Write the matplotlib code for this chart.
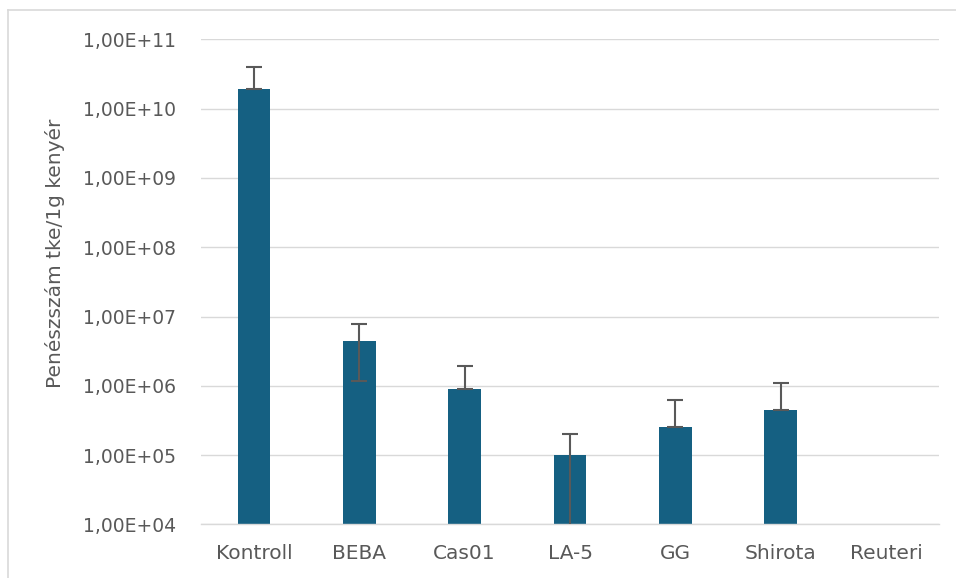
import matplotlib
matplotlib.use("Agg")
import matplotlib.pyplot as plt
from matplotlib.lines import Line2D
from matplotlib.ticker import FixedLocator, FixedFormatter

plt.rcParams['font.family'] = ['DejaVu Sans']

# adatok (leolvasva az ábráról)
categories = ["Kontroll", "BEBA", "Cas01", "LA-5", "GG", "Shirota", "Reuteri"]
values = [1.91e10, 4.5e6, 9.05e5, 1.0e5, 2.51e5, 4.46e5, 0]
err_plus = [2.05e10, 3.3e6, 1.05e6, 1.0e5, 3.65e5, 6.44e5, 0]
err_minus = [0, 3.34e6, 0, 0.999e5, 0, 0, 0]
tick_vals = [1e4, 1e5, 1e6, 1e7, 1e8, 1e9, 1e10, 1e11]
tick_labels = ["1,00E+04", "1,00E+05", "1,00E+06", "1,00E+07",
               "1,00E+08", "1,00E+09", "1,00E+10", "1,00E+11"]

bar_color = "#156082"
text_color = "#595959"
grid_color = "#d9d9d9"

fig = plt.figure(figsize=(9.56, 5.78), dpi=100)
ax = fig.add_axes([0.2106, 0.0929, 0.7713, 0.8388])

x = list(range(len(categories)))
ax.set_yscale("log")
ax.bar(x[:-1], values[:-1], width=0.31, color=bar_color, zorder=2)
ax.errorbar(x[:-1], values[:-1], yerr=[err_minus[:-1], err_plus[:-1]], fmt="none",
            ecolor=text_color, elinewidth=1.5, capsize=6, capthick=1.5, zorder=3)

ax.set_ylim(1e4, 1e11)
ax.set_xlim(-0.5, len(categories) - 0.5)
ax.yaxis.set_major_locator(FixedLocator(tick_vals))
ax.yaxis.set_major_formatter(FixedFormatter(tick_labels))
ax.yaxis.set_minor_locator(FixedLocator([]))
ax.set_xticks(x)
ax.set_xticklabels(categories)

ax.grid(axis="y", color=grid_color, linewidth=1.0, zorder=0)
for s in ["top", "right", "left"]:
    ax.spines[s].set_visible(False)
ax.spines["bottom"].set_color(grid_color)
ax.spines["bottom"].set_linewidth(1.0)

ax.tick_params(axis="y", length=0, pad=18, labelsize=13.5, labelcolor=text_color)
ax.tick_params(axis="x", length=0, pad=14, labelsize=14.5, labelcolor=text_color)

ax.set_ylabel("Penészszám tke/1g kenyér", fontsize=14.5, color=text_color)
ax.yaxis.set_label_coords(-0.185, 0.5586)

# keret a diagram körül
fig.add_artist(Line2D([8 / 956, 1.0], [1 - 10 / 578, 1 - 10 / 578],
                      transform=fig.transFigure, color=grid_color, linewidth=1.2))
fig.add_artist(Line2D([8 / 956, 8 / 956], [0, 1 - 10 / 578],
                      transform=fig.transFigure, color=grid_color, linewidth=1.2))

fig.savefig("out.png", dpi=100)
